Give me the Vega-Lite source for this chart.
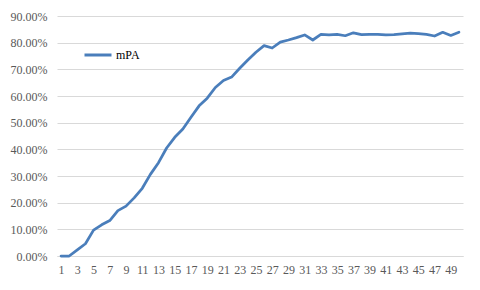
{
  "$schema": "https://vega.github.io/schema/vega-lite/v6.json",
  "autosize": {"type": "none"},
  "width": 406,
  "height": 240,
  "padding": {"left": 57, "top": 16, "right": 17, "bottom": 34},
  "background": "white",
  "config": {"view": {"stroke": null}, "font": "Liberation Serif, Times New Roman, serif"},
  "data": {"values": [
    {"x": 1, "v": 0.000, "s": "mPA"},
    {"x": 2, "v": 0.000, "s": "mPA"},
    {"x": 3, "v": 0.023, "s": "mPA"},
    {"x": 4, "v": 0.046, "s": "mPA"},
    {"x": 5, "v": 0.097, "s": "mPA"},
    {"x": 6, "v": 0.117, "s": "mPA"},
    {"x": 7, "v": 0.133, "s": "mPA"},
    {"x": 8, "v": 0.170, "s": "mPA"},
    {"x": 9, "v": 0.187, "s": "mPA"},
    {"x": 10, "v": 0.218, "s": "mPA"},
    {"x": 11, "v": 0.254, "s": "mPA"},
    {"x": 12, "v": 0.306, "s": "mPA"},
    {"x": 13, "v": 0.350, "s": "mPA"},
    {"x": 14, "v": 0.405, "s": "mPA"},
    {"x": 15, "v": 0.445, "s": "mPA"},
    {"x": 16, "v": 0.476, "s": "mPA"},
    {"x": 17, "v": 0.520, "s": "mPA"},
    {"x": 18, "v": 0.563, "s": "mPA"},
    {"x": 19, "v": 0.592, "s": "mPA"},
    {"x": 20, "v": 0.632, "s": "mPA"},
    {"x": 21, "v": 0.658, "s": "mPA"},
    {"x": 22, "v": 0.671, "s": "mPA"},
    {"x": 23, "v": 0.704, "s": "mPA"},
    {"x": 24, "v": 0.735, "s": "mPA"},
    {"x": 25, "v": 0.764, "s": "mPA"},
    {"x": 26, "v": 0.789, "s": "mPA"},
    {"x": 27, "v": 0.780, "s": "mPA"},
    {"x": 28, "v": 0.802, "s": "mPA"},
    {"x": 29, "v": 0.810, "s": "mPA"},
    {"x": 30, "v": 0.819, "s": "mPA"},
    {"x": 31, "v": 0.829, "s": "mPA"},
    {"x": 32, "v": 0.810, "s": "mPA"},
    {"x": 33, "v": 0.831, "s": "mPA"},
    {"x": 34, "v": 0.829, "s": "mPA"},
    {"x": 35, "v": 0.831, "s": "mPA"},
    {"x": 36, "v": 0.826, "s": "mPA"},
    {"x": 37, "v": 0.837, "s": "mPA"},
    {"x": 38, "v": 0.830, "s": "mPA"},
    {"x": 39, "v": 0.831, "s": "mPA"},
    {"x": 40, "v": 0.831, "s": "mPA"},
    {"x": 41, "v": 0.829, "s": "mPA"},
    {"x": 42, "v": 0.830, "s": "mPA"},
    {"x": 43, "v": 0.833, "s": "mPA"},
    {"x": 44, "v": 0.836, "s": "mPA"},
    {"x": 45, "v": 0.834, "s": "mPA"},
    {"x": 46, "v": 0.831, "s": "mPA"},
    {"x": 47, "v": 0.825, "s": "mPA"},
    {"x": 48, "v": 0.839, "s": "mPA"},
    {"x": 49, "v": 0.827, "s": "mPA"},
    {"x": 50, "v": 0.839, "s": "mPA"}
  ]},
  "mark": {"type": "line", "strokeWidth": 2.75, "strokeJoin": "round", "strokeCap": "round"},
  "encoding": {
    "x": {
      "field": "x", "type": "quantitative",
      "scale": {"domain": [0.5, 50.5], "nice": false, "zero": false},
      "axis": {
        "title": null, "grid": false, "ticks": false, "tickSize": 0,
        "values": [1,3,5,7,9,11,13,15,17,19,21,23,25,27,29,31,33,35,37,39,41,43,45,47,49],
        "labelFont": "Liberation Serif, Times New Roman, serif", "labelFontSize": 12, "labelColor": "#595959",
        "labelPadding": 8, "domainColor": "#d9d9d9", "domainWidth": 1,
        "labelFlush": false, "labelOverlap": false
      }
    },
    "y": {
      "field": "v", "type": "quantitative",
      "scale": {"domain": [0, 0.9], "nice": false},
      "axis": {
        "title": null, "format": ".2%", "domain": false, "ticks": false, "tickSize": 0,
        "values": [0, 0.1, 0.2, 0.3, 0.4, 0.5, 0.6, 0.7, 0.8, 0.9],
        "gridColor": "#d9d9d9", "gridWidth": 1,
        "labelFont": "Liberation Serif, Times New Roman, serif", "labelFontSize": 12, "labelColor": "#595959",
        "labelPadding": 10
      }
    },
    "color": {
      "field": "s", "type": "nominal",
      "scale": {"range": ["#4a7ebb"]},
      "legend": {
        "title": null, "orient": "none", "legendX": 26, "legendY": 24, "padding": 0,
        "symbolType": "stroke", "symbolSize": 729, "symbolStrokeWidth": 3,
        "labelFont": "Liberation Serif, Times New Roman, serif", "labelFontSize": 12, "labelColor": "#000000",
        "labelOffset": 3
      }
    }
  }
}
